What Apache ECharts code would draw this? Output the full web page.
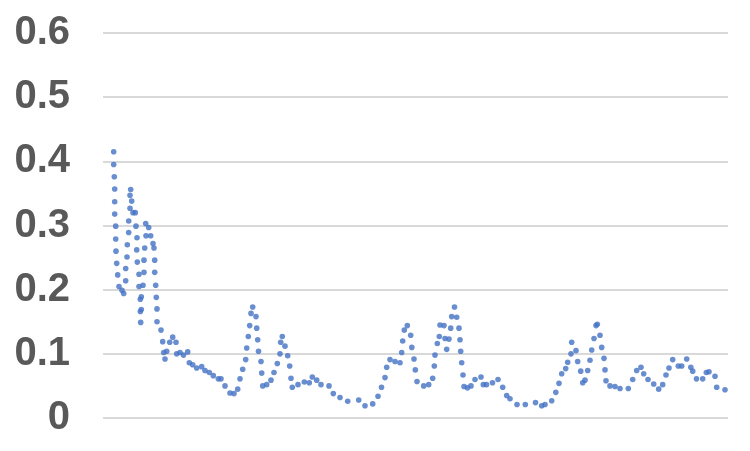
<!DOCTYPE html>
<html>
<head>
<meta charset="utf-8">
<script src="https://cdn.jsdelivr.net/npm/echarts@6/dist/echarts.min.js"></script>
<style>
  html, body { margin: 0; padding: 0; background: #fff; }
  #chart { width: 750px; height: 451px; }
</style>
</head>
<body>
<div id="chart"></div>
<script>
'use strict';

// x position of every marker (sample units, axis runs 0..250)
var sampleX = [
  4.28, 4.28, 4.52, 4.68, 4.68, 4.68, 5.08, 5.08, 5.2, 5.48, 5.88, 6.4, 7.6, 8.28,
  9.08, 9.08, 9.6, 9.72, 10.28, 10.28, 10.8, 11.48, 10.8, 11.08,
  12, 12.92, 13.2, 13.6, 13.48, 13.72, 14.4, 14.4, 14.92, 14.92, 15.08,
  15.32, 15.32, 16, 16.4, 16.4, 16.68, 17.2, 17.08, 18.28, 19.08,
  20, 20.4, 20.68, 20.68, 21.08, 21.32, 21.6, 21.6, 23.2, 23.88, 24.28, 24.8,
  25.48, 26.68, 27.88, 29.2, 29.48, 30.8, 32.2, 33.88, 34.52, 35.88, 37.48,
  39.48, 40.8, 42.52, 44.12, 46.12, 47.2, 48.8, 50.8, 52.4, 53.88, 54.8,
  55.88, 57.08, 57.48, 58.12, 58.68, 59.2, 59.88, 61.2, 61.48, 61.88, 62.2,
  63.2, 63.48, 63.88, 65.48, 67.2, 68.4, 69.72, 70.8, 71.08, 71.72, 72.8,
  73.88, 74.68, 75.2, 75.72, 78, 80.52, 82.52, 83.72, 85.48, 87.2, 90.4,
  92.12, 94.8, 97.88, 102.28, 104.8, 107.88, 110, 111.4, 112.8, 113.48,
  114.8, 116.8, 118.8, 119.48, 119.88, 120.52, 121.72, 123.08, 123.52,
  124.4, 124.92, 125.6, 128.28, 130.28, 131.88, 132.52, 132.8, 133.72,
  134.52, 134.8, 136.4, 136.8, 137.48, 138.4, 139.08, 139.48, 140.6,
  141.48, 142.4, 142.8, 143.08, 143.48, 144, 144.4, 145.8, 147.2, 148.8,
  151.2, 152.12, 153.4, 155.8, 158, 159.88, 161.48, 162.8, 165.6, 168.92,
  173, 175.48, 176.8, 179.48, 181.12, 182.4, 183.48, 185.08, 185.88, 187.2,
  187.48, 189.2, 189.88, 191.08, 191.88, 192.8, 193.88, 194.8, 195.48,
  196.4, 197.2, 197.72, 198.8, 199.48, 200.4, 200.8, 201.2, 202.8, 204.8,
  206.8, 210.12, 211.88, 213.48, 215.2, 216.28, 218, 220.28, 222.28, 223.88,
  225.2, 226.4, 227.88, 230.12, 231.48, 233.48, 235.12, 235.88, 237.4,
  239.88, 241.32, 242.4, 244.8, 245.48, 248.8
];

var ratio = [
  0.415, 0.395, 0.376, 0.357, 0.337, 0.318, 0.299, 0.279, 0.260, 0.241, 0.223, 0.205, 0.199, 0.194,
  0.214, 0.233, 0.251, 0.270, 0.289, 0.307, 0.327, 0.338, 0.347, 0.356,
  0.320, 0.320, 0.299, 0.281, 0.262, 0.243, 0.224, 0.205, 0.185, 0.166, 0.149,
  0.189, 0.169, 0.207, 0.227, 0.246, 0.265, 0.284, 0.303, 0.297, 0.284,
  0.272, 0.265, 0.246, 0.227, 0.207, 0.188, 0.170, 0.150, 0.137, 0.119, 0.102, 0.092,
  0.104, 0.118, 0.126, 0.118, 0.100, 0.102, 0.098, 0.103, 0.086, 0.083, 0.078,
  0.080, 0.074, 0.071, 0.066, 0.061, 0.061, 0.050, 0.039, 0.038, 0.045, 0.061,
  0.076, 0.091, 0.109, 0.127, 0.144, 0.163, 0.173, 0.158, 0.140, 0.122, 0.104,
  0.088, 0.070, 0.050, 0.052, 0.059, 0.071, 0.085, 0.100, 0.118, 0.127, 0.112,
  0.097, 0.081, 0.062, 0.048, 0.052, 0.056, 0.055, 0.064, 0.059, 0.052, 0.050,
  0.038, 0.032, 0.026, 0.028, 0.019, 0.022, 0.034, 0.048, 0.063, 0.079,
  0.091, 0.088, 0.086, 0.102, 0.120, 0.137, 0.144, 0.129, 0.110,
  0.092, 0.075, 0.057, 0.050, 0.052, 0.062, 0.081, 0.098, 0.116,
  0.127, 0.145, 0.144, 0.124, 0.107, 0.123, 0.140, 0.158, 0.173,
  0.157, 0.140, 0.122, 0.104, 0.086, 0.067, 0.049, 0.047, 0.050, 0.060,
  0.064, 0.052, 0.052, 0.055, 0.060, 0.048, 0.035, 0.030, 0.021, 0.021,
  0.024, 0.019, 0.021, 0.027, 0.040, 0.054, 0.069, 0.077, 0.087, 0.100,
  0.118, 0.105, 0.088, 0.073, 0.055, 0.059, 0.074, 0.090, 0.106,
  0.124, 0.144, 0.146, 0.129, 0.110, 0.093, 0.075, 0.058, 0.050, 0.049,
  0.046, 0.046, 0.060, 0.074, 0.079, 0.069, 0.060, 0.053, 0.045, 0.052,
  0.067, 0.078, 0.091, 0.081, 0.081, 0.092, 0.079, 0.073, 0.061,
  0.061, 0.071, 0.072, 0.065, 0.048, 0.044
];

var yTicks = ['0', '0.1', '0.2', '0.3', '0.4', '0.5', '0.6'];

var points = [];
for (var i = 0; i < sampleX.length; i++) {
  points.push([sampleX[i], ratio[i]]);
}

var chart = echarts.init(document.getElementById('chart'), null, { renderer: 'canvas' });

var option = {
  animation: false,
  grid: { left: 103, right: 22, top: 33, bottom: 33 },
  xAxis: {
    type: 'value',
    min: 0,
    max: 250,
    axisLine: { show: false },
    axisTick: { show: false },
    axisLabel: { show: false },
    splitLine: { show: false }
  },
  yAxis: {
    type: 'value',
    min: 0,
    max: 0.6,
    interval: 0.1,
    axisLine: { show: false },
    axisTick: { show: false },
    axisLabel: {
      margin: 33,
      color: '#595959',
      fontSize: 40,
      fontWeight: 'bold',
      fontFamily: 'Liberation Sans, Arial, sans-serif',
      formatter: function(val) {
        return yTicks[Math.round(val * 10)];
      }
    },
    splitLine: { lineStyle: { color: '#d9d9d9', width: 2 } }
  },
  series: [{
    type: 'scatter',
    data: points,
    symbol: 'circle',
    symbolSize: 5.6,
    itemStyle: { color: '#4472C4' }
  }]
};

chart.setOption(option);
</script>
</body>
</html>
